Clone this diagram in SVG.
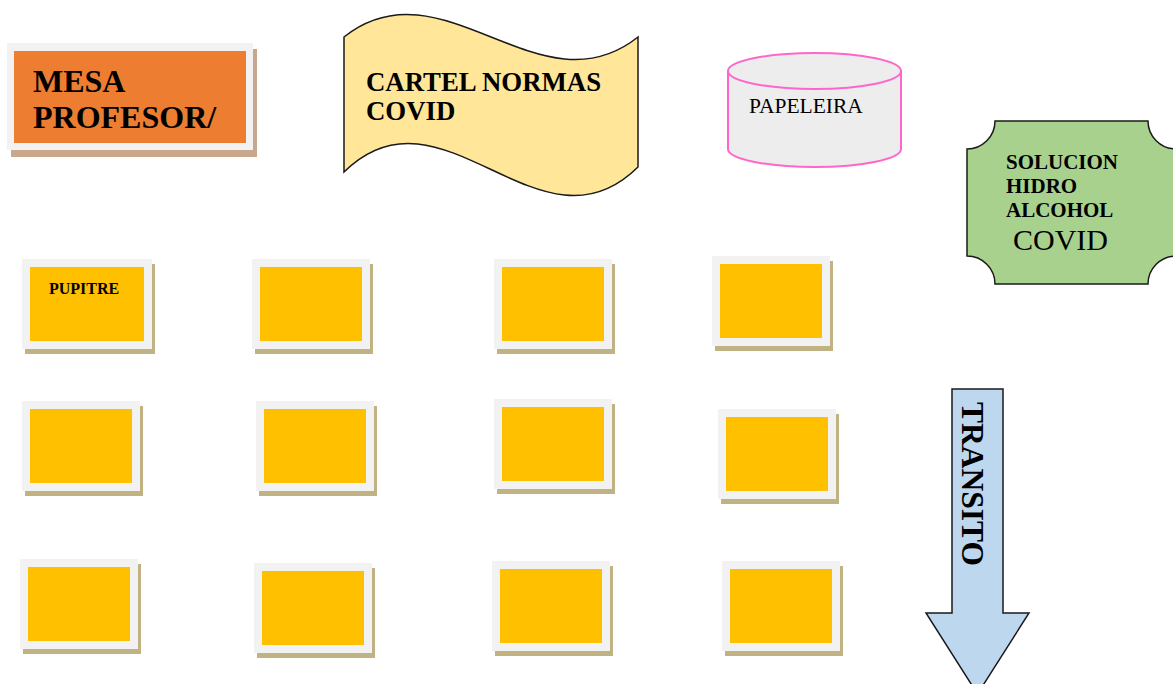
<svg xmlns="http://www.w3.org/2000/svg" width="1173" height="684" viewBox="0 0 1173 684">
<style>
.sh{fill:#C1B283}
.fr{fill:#F2F2F2}
.in{fill:#FFC000}
.b{font-family:"Liberation Serif","Times New Roman",serif;font-weight:bold;fill:#000}
.r{font-family:"Liberation Serif","Times New Roman",serif;fill:#000}
.ol{stroke:#1a1a1a;stroke-width:1.5}
</style>
<rect width="1173" height="684" fill="#fff"/>
<g id="mesa-profesor">
<rect x="11" y="49" width="246" height="108" fill="#C9A78C"/>
<rect x="7" y="43" width="246" height="107" class="fr"/>
<rect x="14" y="51" width="232" height="92" fill="#ED7D31"/>
<text class="b" font-size="32" x="33" y="92">MESA</text>
<text class="b" font-size="32" x="33" y="128">PROFESOR/</text>
</g>
<g id="cartel-normas">
<path class="ol" fill="#FFE699" d="M344,37 C442,-41 540,115 638,37 V167 C540,264 442,75 344,172 Z"/>
<text class="b" font-size="26.8" x="366" y="91">CARTEL NORMAS</text>
<text class="b" font-size="26.8" x="366" y="120">COVID</text>
</g>
<g id="papeleira">
<path d="M728,71 V149 A86.5,18 0 0 0 901,149 V71" fill="#EDEDED" stroke="#FF66CC" stroke-width="2"/>
<ellipse cx="814.5" cy="71" rx="86.5" ry="18" fill="#EDEDED" stroke="#FF66CC" stroke-width="2"/>
<text class="r" font-size="21.5" x="749" y="113">PAPELEIRA</text>
</g>
<g id="solucion-hidroalcohol">
<path class="ol" fill="#A9D18E" d="M995,121 H1148 A28,28 0 0 0 1176,149 V256 A28,28 0 0 0 1148,284 H995 A28,28 0 0 0 967,256 V149 A28,28 0 0 0 995,121 Z"/>
<text class="b" font-size="21" x="1006" y="169">SOLUCION</text>
<text class="b" font-size="21" x="1006" y="193">HIDRO</text>
<text class="b" font-size="21" x="1006" y="217">ALCOHOL</text>
<text class="r" font-size="30" x="1013" y="250">COVID</text>
</g>
<g id="transito">
<path class="ol" fill="#BDD7EE" d="M952,389 H1003 V613 H1029 L977.5,694 L926,613 H952 Z"/>
<text class="b" font-size="31.5" transform="translate(962,402) rotate(90)">TRANSITO</text>
</g>
<g id="pupitre-1">
<rect class="sh" x="25" y="264" width="130" height="90"/>
<rect class="fr" x="22" y="259" width="130" height="90"/>
<rect class="in" x="30" y="267" width="114" height="74"/>
<text class="b" font-size="16" x="49" y="294">PUPITRE</text>
</g>
<g id="pupitre-2">
<rect class="sh" x="255" y="264" width="118" height="90"/>
<rect class="fr" x="252" y="259" width="118" height="90"/>
<rect class="in" x="260" y="267" width="102" height="74"/>
</g>
<g id="pupitre-3">
<rect class="sh" x="497" y="264" width="118" height="90"/>
<rect class="fr" x="494" y="259" width="118" height="90"/>
<rect class="in" x="502" y="267" width="102" height="74"/>
</g>
<g id="pupitre-4">
<rect class="sh" x="715" y="261" width="118" height="90"/>
<rect class="fr" x="712" y="256" width="118" height="90"/>
<rect class="in" x="720" y="264" width="102" height="74"/>
</g>
<g id="pupitre-5">
<rect class="sh" x="25" y="406" width="118" height="90"/>
<rect class="fr" x="22" y="401" width="118" height="90"/>
<rect class="in" x="30" y="409" width="102" height="74"/>
</g>
<g id="pupitre-6">
<rect class="sh" x="259" y="406" width="118" height="90"/>
<rect class="fr" x="256" y="401" width="118" height="90"/>
<rect class="in" x="264" y="409" width="102" height="74"/>
</g>
<g id="pupitre-7">
<rect class="sh" x="497" y="404" width="118" height="90"/>
<rect class="fr" x="494" y="399" width="118" height="90"/>
<rect class="in" x="502" y="407" width="102" height="74"/>
</g>
<g id="pupitre-8">
<rect class="sh" x="721" y="414" width="118" height="90"/>
<rect class="fr" x="718" y="409" width="118" height="90"/>
<rect class="in" x="726" y="417" width="102" height="74"/>
</g>
<g id="pupitre-9">
<rect class="sh" x="23" y="564" width="118" height="90"/>
<rect class="fr" x="20" y="559" width="118" height="90"/>
<rect class="in" x="28" y="567" width="102" height="74"/>
</g>
<g id="pupitre-10">
<rect class="sh" x="257" y="568" width="118" height="90"/>
<rect class="fr" x="254" y="563" width="118" height="90"/>
<rect class="in" x="262" y="571" width="102" height="74"/>
</g>
<g id="pupitre-11">
<rect class="sh" x="495" y="566" width="118" height="90"/>
<rect class="fr" x="492" y="561" width="118" height="90"/>
<rect class="in" x="500" y="569" width="102" height="74"/>
</g>
<g id="pupitre-12">
<rect class="sh" x="725" y="566" width="118" height="90"/>
<rect class="fr" x="722" y="561" width="118" height="90"/>
<rect class="in" x="730" y="569" width="102" height="74"/>
</g>
<g id="connectors"/>
</svg>
